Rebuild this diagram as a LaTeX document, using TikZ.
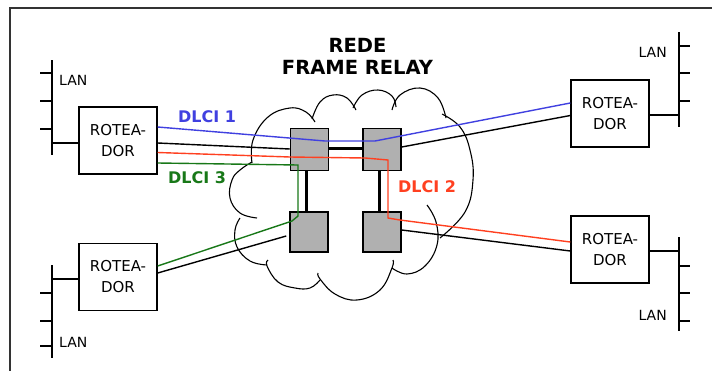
\documentclass[tikz,border=0pt]{standalone}
\usepackage{fontspec}
\setmainfont{DejaVu Sans}
\usetikzlibrary{calc}
\definecolor{dblue}{RGB}{64,64,224}
\definecolor{dred}{RGB}{255,64,32}
\definecolor{dgreen}{RGB}{24,120,24}
\definecolor{swgray}{RGB}{176,176,176}
\begin{document}
\begin{tikzpicture}[x=1pt,y=-1pt,
  router/.style={draw=black, line width=1.4pt, fill=white, minimum width=78pt, minimum height=67pt, inner sep=0pt, align=center, font=\fontsize{15}{21}\selectfont},
  switchbox/.style={draw=black, line width=1.5pt, fill=swgray, minimum width=38pt, minimum height=42pt, inner sep=0pt},
  bus/.style={line width=1.7pt, black},
  link/.style={line width=1.4pt},
  trunk/.style={line width=3pt},
  lanlbl/.style={font=\fontsize{14}{14}\selectfont, inner sep=0pt},
  dlci/.style={font=\bfseries\fontsize{16}{16}\selectfont, inner sep=0pt},
  titlefont/.style={font=\bfseries\fontsize{19.5}{22}\selectfont, inner sep=0pt},
  cloudline/.style={line width=1.1pt, black}
]
\useasboundingbox (0,0) rectangle (712,370);
% frame
\draw[line width=2pt, black!80] (10,372) -- (10,8) -- (714,8);

% title
\node[titlefont, anchor=base] (t1) at (357.5,52) {REDE};
\node[titlefont, anchor=base] (t2) at (357.5,74) {FRAME RELAY};

% cloud
\draw[cloudline] plot[smooth, tension=0.7] coordinates {(252,163) (253,140) (268,117) (290,108) (306,112) (315,122)};
\draw[cloudline] plot[smooth, tension=0.7] coordinates {(312,119) (320,102) (333,95) (347,98) (356,110)};
\draw[cloudline] plot[smooth, tension=0.7] coordinates {(353,108) (362,95) (378,90) (392,96) (396,107)};
\draw[cloudline] plot[smooth, tension=0.7] coordinates {(392,110) (400,95) (420,88) (438,98) (446,118)};
\draw[cloudline] plot[smooth, tension=0.7] coordinates {(442,114) (460,127) (470,150) (473,180) (465,212) (440,238)};
\draw[cloudline] plot[smooth, tension=0.7] coordinates {(427,205) (436,222) (437,245) (425,266) (407,274) (392,268)};
\draw[cloudline] plot[smooth, tension=0.7] coordinates {(393,260) (392,268) (380,290) (357,300) (335,294) (320,279) (318,273)};
\draw[cloudline] plot[smooth, tension=0.7] coordinates {(320,280) (310,288) (295,288) (278,282) (267,266) (268,260)};
\draw[cloudline] plot[smooth, tension=0.7] coordinates {(267,265) (250,261) (237,247) (235,230) (240,218)};
\draw[cloudline] plot[smooth, tension=0.7] coordinates {(257,218) (240,213) (230,198) (232,180) (240,170) (252,162)};

% routers
\node[router] (R1) at (118,140.5) {ROTEA-\\DOR};
\node[router] (R2) at (118,277) {ROTEA-\\DOR};
\node[router] (R3) at (610,113.5) {ROTEA-\\DOR};
\node[router] (R4) at (610,249.5) {ROTEA-\\DOR};

% switches
\node[switchbox] (S1) at (309.5,149.5) {};
\node[switchbox] (S2) at (382,149.5) {};
\node[switchbox, minimum height=40pt] (S3) at (309,232) {};
\node[switchbox, minimum height=40pt] (S4) at (382,232) {};

% trunks
\draw[trunk] ($(S1.east)+(0,-1.5)$) -- ($(S2.west)+(0,-1.5)$);
\draw[trunk] ($(S1.south)+(-3.5,0)$) -- ($(S3.north)+(-3,0)$);
\draw[trunk] ($(S2.south)+(-3,0)$) -- ($(S4.north)+(-3,0)$);

% black access links
\draw[link] ($(R1.east)+(0,2.5)$) -- ($(S1.west)+(0,-0.5)$);
\draw[link] ($(R2.east)+(0,-4)$) -- ($(S3.west)+(-3,4)$);
\draw[link] ($(S2.east)+(0,-2.5)$) -- ($(R3.west)+(0,2)$);
\draw[link] ($(S4.east)+(0,-2)$) -- ($(R4.west)+(0,1.5)$);

% virtual circuits
\draw[link, dblue] ($(R1.east)+(0,-13.5)$) -- (325,141) -- (375,141) -- ($(R3.west)+(0,-10.5)$);
\draw[link, dred] ($(R1.east)+(0,12)$) -- (290,157) -- (365,158) -- (388,160) -- (388,218) -- (400,220) -- ($(R4.west)+(0,-7.5)$);
\draw[link, dgreen] ($(R1.east)+(0,22.5)$) -- (298,165) -- (298,216) -- (292,221) -- ($(R2.east)+(0,-11)$);

% DLCI labels
\node[dlci, text=dblue] (d1) at (207,117) {DLCI 1};
\node[dlci, text=dgreen] (d3) at (197,178) {DLCI 3};
\node[dlci, text=dred] (d2) at (427,187) {DLCI 2};

% LAN buses
\coordinate (J1) at (52,143);
\coordinate (J2) at (52,279);
\coordinate (J3) at (679,115);
\coordinate (J4) at (679,251);
\draw[bus] (52,60) -- (52,155);
\foreach \yy in {73,101,129} \draw[bus] (40,\yy) -- (52,\yy);
\draw[bus] ($(R1.west)+(0,2.5)$) -- (J1);
\draw[bus] (52,265) -- (52,358);
\foreach \yy in {293,321,346} \draw[bus] (40,\yy) -- (52,\yy);
\draw[bus] ($(R2.west)+(0,2)$) -- (J2);
\draw[bus] (679,32) -- (679,127);
\foreach \yy in {46,73,101} \draw[bus] (679,\yy) -- (690,\yy);
\draw[bus] ($(R3.east)+(0,1.5)$) -- (J3);
\draw[bus] (679,237) -- (679,331);
\foreach \yy in {266,293,321} \draw[bus] (679,\yy) -- (690,\yy);
\draw[bus] ($(R4.east)+(0,1.5)$) -- (J4);

% LAN labels
\node[lanlbl, anchor=west] (l1) at (59,80) {LAN};
\node[lanlbl, anchor=west] (l2) at (59,342) {LAN};
\node[lanlbl, anchor=east] (l3) at (667,52) {LAN};
\node[lanlbl, anchor=east] (l4) at (667,315) {LAN};
\end{tikzpicture}
\end{document}
